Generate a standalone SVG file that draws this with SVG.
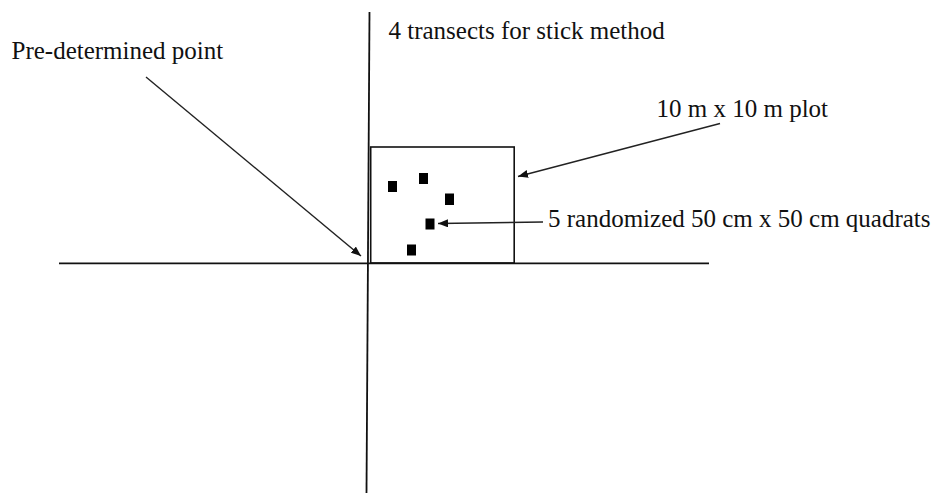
<svg xmlns="http://www.w3.org/2000/svg" width="934" height="494" viewBox="0 0 934 494">
  <style>
    text { font-family: 'Liberation Serif', 'Tinos', 'Times New Roman', 'DejaVu Serif', serif; font-size: 25px; fill: #111; }
    .axis { stroke: #111; stroke-width: 1.8; fill: none; }
    .plot { stroke: #111; stroke-width: 1.6; fill: none; }
    .conn { stroke: #222; stroke-width: 1.4; fill: none; marker-end: url(#head); }
    .quad { fill: #000; }
  </style>
  <defs>
    <marker id="head" viewBox="0 0 10 8" refX="10" refY="4" markerWidth="10" markerHeight="8" markerUnits="userSpaceOnUse" orient="auto">
      <path d="M0,0 L10,4 L0,8 Z" fill="#111"/>
    </marker>
  </defs>

  <!-- transects -->
  <g id="transects">
    <line class="axis" x1="369.5" y1="12" x2="366.5" y2="493"/>
    <line class="axis" x1="59" y1="263.3" x2="709" y2="263.3"/>
  </g>

  <!-- 10 m x 10 m plot -->
  <g id="plot">
    <rect class="plot" x="370.7" y="147" width="143.5" height="116"/>
  </g>

  <!-- quadrats -->
  <g id="quadrats">
    <rect class="quad" x="388" y="181" width="9" height="11"/>
    <rect class="quad" x="419" y="173" width="9" height="11"/>
    <rect class="quad" x="445" y="193.5" width="9" height="11.5"/>
    <rect class="quad" x="425.5" y="218.5" width="9" height="11"/>
    <rect class="quad" x="407" y="244.5" width="9" height="11"/>
  </g>

  <!-- labels -->
  <g id="label-point">
    <text font-family="Liberation Serif, serif" x="11.5" y="59">Pre-determined point</text>
  </g>
  <g id="label-transects">
    <text font-family="Liberation Serif, serif" x="388.5" y="39">4 transects for stick method</text>
  </g>
  <g id="label-plot">
    <text font-family="Liberation Serif, serif" x="656.5" y="117">10 m x 10 m plot</text>
  </g>
  <g id="label-quadrats">
    <text font-family="Liberation Serif, serif" x="548" y="227">5 randomized 50 cm x 50 cm quadrats</text>
  </g>

  <!-- connectors -->
  <g id="connectors">
    <line class="conn" x1="146" y1="77" x2="361" y2="256"/>
    <line class="conn" x1="720" y1="123.5" x2="518" y2="176.5"/>
    <line class="conn" x1="543" y1="222" x2="438" y2="223.5"/>
  </g>
</svg>
